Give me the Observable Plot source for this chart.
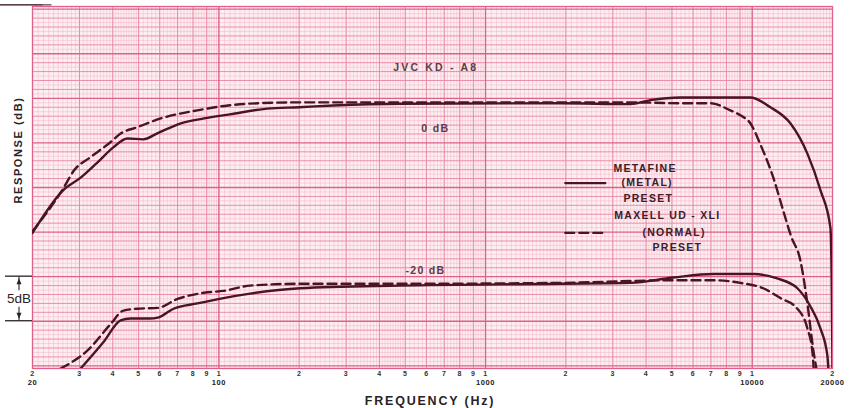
<!DOCTYPE html>
<html><head><meta charset="utf-8">
<script src="https://cdn.jsdelivr.net/npm/d3@7"></script>
<script src="https://cdn.jsdelivr.net/npm/@observablehq/plot@0.6"></script>
<style>
body{margin:0;background:#fff;}
#chart svg{display:block;}
#chart text{letter-spacing:1.3px;}
</style></head><body><div id="chart"></div>
<script>
// ---- Data (frequency in Hz, response in dB relative to chart grid) ----
const metalTopFreq = [20,26.1,30.3,35,40.2,45.4,52,59,72,88,110,152,200,268,478,1910,3490,4150,5380,9840,11700,13900,16100,18020,19640,19850,20000];
const metalTopDb   = [-15.1,-10.3,-8.9,-7.2,-5.5,-4.5,-4.6,-3.9,-2.8,-2.25,-1.8,-1.15,-1.0,-0.8,-0.6,-0.55,-0.65,-0.2,0.1,0.1,-1.0,-2.8,-6.2,-10.3,-14.5,-20,-30.3];
const normalTopFreq = [20,26.1,28.6,33,39.3,42.8,49.3,62.2,83,108,140,200,478,1900,3490,5380,6970,8280,9030,9840,10740,12000,13100,14000,15160,16100,16960,17400];
const normalTopDb   = [-14.9,-10.1,-8.1,-6.6,-4.9,-3.95,-3.25,-2.15,-1.35,-0.8,-0.55,-0.45,-0.45,-0.45,-0.45,-0.55,-0.55,-1.35,-1.9,-2.8,-5.2,-8.9,-12.7,-15.5,-18.2,-23.0,-28.3,-30.3];
const metalBotFreq = [30.3,37,42.8,46.6,55,59,67.6,83,104,131,202,478,1910,3490,5060,7150,10100,12400,14770,16500,18020,19140,19300];
const metalBotDb   = [-30.3,-27.3,-24.9,-24.7,-24.7,-24.6,-23.6,-23.0,-22.4,-21.9,-21.3,-21.0,-20.8,-20.7,-20.1,-19.7,-19.7,-20.2,-21.3,-23.3,-25.8,-28.9,-30.3];
const normalBotFreq = [25.5,32.1,39.3,43.9,49.3,59,70,88,104,131,202,478,1910,5060,7150,9030,11000,12760,14770,16100,16820,17000];
const normalBotDb   = [-30.3,-28.3,-25.3,-23.8,-23.6,-23.5,-22.5,-21.8,-21.6,-21.0,-20.8,-20.8,-20.7,-20.4,-20.4,-20.7,-21.3,-22.4,-23.6,-25.8,-28.5,-30.3];

const tickFreqs  = [20,30,40,50,60,70,80,90,100,200,300,400,500,600,700,800,900,1000,2000,3000,4000,5000,6000,7000,8000,9000,10000,20000];
const tickDigits = ["2","3","4","5","6","7","8","9","1","2","3","4","5","6","7","8","9","1","2","3","4","5","6","7","8","9","1","2"];
const decadeFreqs  = [20,100,1000,10000,20000];
const decadeLabels = ["20","100","1000","10000","20000"];

const annoText = ["JVC KD - A8","0 dB","-20 dB"];
const annoFreq = [650,648,595];
const annoDb   = [3.5,-3.4,-19.3];

const legendText = ["METAFINE","(METAL)","PRESET","MAXELL UD - XLI","(NORMAL)","PRESET"];
const legendFreq = [3016,3232,3288,3040,3874,4226];
const legendDb   = [-7.9,-9.4,-11.2,-13.1,-15.1,-16.7];
const legendSwatchFreq = [1990,2814];
const legendSwatchDb = [-9.5,-15.1];

// ---- Build tables ----
const zip = (fs, ds) => fs.map((f,i) => ({f, d: ds[i]}));
const metalTop = zip(metalTopFreq, metalTopDb);
const normalTop = zip(normalTopFreq, normalTopDb);
const metalBot = zip(metalBotFreq, metalBotDb);
const normalBot = zip(normalBotFreq, normalBotDb);
const ticks = tickFreqs.map((f,i)=>({f, t: tickDigits[i]}));
const decades = decadeFreqs.map((f,i)=>({f, t: decadeLabels[i]}));
const annos = annoText.map((t,i)=>({t, f: annoFreq[i], d: annoDb[i]}));
const legends = legendText.map((t,i)=>({t, f: legendFreq[i], d: legendDb[i]}));

// ---- Graph paper grid ----
const fineX = [], midX = [], majX = [];
for (const dec of [10,100,1000,10000]) {
  for (let k=20;k<40;k++) fineX.push(dec*k/20);
  for (let k=20;k<50;k++) fineX.push(dec*k/10);
  for (let k=25;k<50;k++) fineX.push(dec*k/5);
  for (let m=1;m<10;m++) (m===1?majX:midX).push(dec*m);
}
const inX = f => f>=20 && f<=20000;
const fineY = [], midY = [], majY = [];
for (let k=-60;k<=20;k++) {
  const v = k/2;
  if (k%10===0) majY.push(v); else if (k%2===0) midY.push(v); else fineY.push(v);
}

const ink = "#4a1424";
const chart = Plot.plot({
  width: 854, height: 408,
  marginLeft: 32, marginRight: 22, marginTop: 6, marginBottom: 40,
  x: {type: "log", domain: [20, 20000], axis: null},
  y: {domain: [-30.3, 10.3], axis: null},
  style: {background: "#fff", fontFamily: "'Liberation Sans', Arial, sans-serif"},
  marks: [
    Plot.frame({fill: "#fdeef2", stroke: null}),
    Plot.ruleX(fineX.filter(inX), {stroke: "#f3b4c6", strokeWidth: 0.5}),
    Plot.ruleY(fineY, {stroke: "#f3b4c6", strokeWidth: 0.5}),
    Plot.ruleX(midX.filter(inX), {stroke: "#e8869f", strokeWidth: 0.9}),
    Plot.ruleY(midY, {stroke: "#e8869f", strokeWidth: 0.9}),
    Plot.ruleX(majX.filter(inX), {stroke: "#dd6189", strokeWidth: 1.3}),
    Plot.ruleY(majY, {stroke: "#dd6189", strokeWidth: 1.3}),
    Plot.frame({stroke: "#dd6189", strokeWidth: 1.3}),
    Plot.line(metalTop, {x: "f", y: "d", stroke: ink, strokeWidth: 2.4, curve: "monotone-x", clip: true}),
    Plot.line(normalTop, {x: "f", y: "d", stroke: ink, strokeWidth: 2.4, strokeDasharray: "9,5", curve: "monotone-x", clip: true}),
    Plot.line(metalBot, {x: "f", y: "d", stroke: ink, strokeWidth: 2.4, curve: "monotone-x", clip: true}),
    Plot.line(normalBot, {x: "f", y: "d", stroke: ink, strokeWidth: 2.4, strokeDasharray: "9,5", curve: "monotone-x", clip: true}),
    Plot.line(legendSwatchFreq.map(f=>({f, d: legendSwatchDb[0]})), {x:"f", y:"d", stroke: ink, strokeWidth: 2.2}),
    Plot.line(legendSwatchFreq.map(f=>({f, d: legendSwatchDb[1]})), {x:"f", y:"d", stroke: ink, strokeWidth: 2.2, strokeDasharray: "9,5"}),
    Plot.text(annos, {x: "f", y: "d", text: "t", fill: "#5e3a48", fontSize: 10.5, fontWeight: "bold"}),
    Plot.text(legends, {x: "f", y: "d", text: "t", fill: "#3a2028", fontSize: 10.5, fontWeight: "bold", textAnchor: "start"}),
    Plot.text(ticks, {x: "f", text: "t", frameAnchor: "bottom", lineAnchor: "top", dy: 3, fontSize: 7, fontWeight: "bold", fill: "#333"}),
    Plot.text(decades, {x: "f", text: "t", frameAnchor: "bottom", lineAnchor: "top", dy: 11, fontSize: 7.5, fontWeight: "bold", fill: "#222"})
  ]
});
document.getElementById("chart").append(chart);

// letter spacing tweaks
chart.querySelectorAll("text").forEach(t => {
  if (t.textContent === "JVC KD - A8") t.style.letterSpacing = "2.2px";
  if (/^[0-9]+$/.test(t.textContent)) t.style.letterSpacing = "0.6px";
});

// ---- Decorations in the margins ----
const svg = d3.select(chart);
const ys = chart.scale("y");
const y20 = ys.apply(-20), y25 = ys.apply(-25);
const dg = svg.append("g").attr("stroke", "#2a2226").attr("fill", "#2a2226");
dg.append("line").attr("x1", 5).attr("x2", 32).attr("y1", y20).attr("y2", y20).attr("stroke-width", 1.3);
dg.append("line").attr("x1", 5).attr("x2", 32).attr("y1", y25).attr("y2", y25).attr("stroke-width", 1.3);
dg.append("line").attr("x1", 19).attr("x2", 19).attr("y1", y20).attr("y2", y20 + 14).attr("stroke-width", 1.1);
dg.append("line").attr("x1", 19).attr("x2", 19).attr("y1", y25 - 14).attr("y2", y25).attr("stroke-width", 1.1);
dg.append("path").attr("stroke", "none").attr("d", `M19,${y20+2}L16.5,${y20+8}L21.5,${y20+8}Z`);
dg.append("path").attr("stroke", "none").attr("d", `M19,${y25-2}L16.5,${y25-8}L21.5,${y25-8}Z`);
svg.append("text").attr("x", 19).attr("y", (y20 + y25) / 2 + 5).attr("text-anchor", "middle")
  .attr("font-size", 13.5).attr("fill", "#2a2226").style("letter-spacing", "0px").text("5dB");
svg.append("text").attr("transform", "translate(22,150) rotate(-90)").attr("text-anchor", "middle")
  .attr("font-size", 11).attr("font-weight", "bold").attr("fill", "#2a2226").style("letter-spacing", "1.6px")
  .text("RESPONSE (dB)");
svg.append("text").attr("x", 430).attr("y", 405).attr("text-anchor", "middle")
  .attr("font-size", 12.5).attr("font-weight", "bold").attr("fill", "#2a2226").style("letter-spacing", "1.8px")
  .text("FREQUENCY (Hz)");

// underline selected labels
chart.querySelectorAll("text").forEach(t => {
  if (t.textContent === "JVC KD - A8" || t.textContent === "(METAL)") {
    const b = t.getBBox();
    svg.append("line").attr("x1", b.x).attr("x2", b.x + b.width).attr("y1", b.y + b.height - 0.5).attr("y2", b.y + b.height - 0.5)
      .attr("stroke", t.textContent === "(METAL)" ? "#3a2028" : "#5e3a48").attr("stroke-width", 1);
  }
});
</script></body></html>
